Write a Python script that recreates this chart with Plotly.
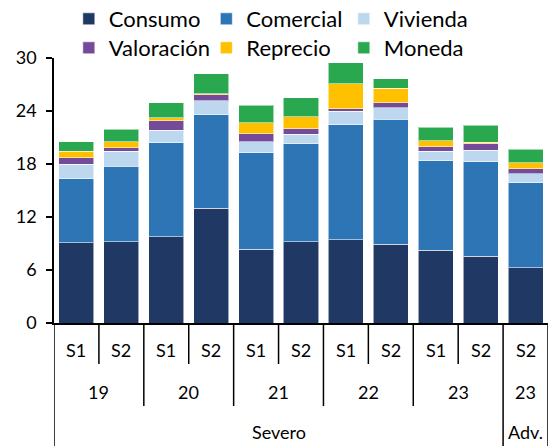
import plotly.graph_objects as go

# ---- data ----
periods = ["S1", "S2", "S1", "S2", "S1", "S2", "S1", "S2", "S1", "S2", "S2"]
years = ["19", "19", "20", "20", "21", "21", "22", "22", "23", "23", "23"]
scenarios = ["Severo"] * 10 + ["Adv."]

consumo = [9.10, 9.21, 9.78, 12.98, 8.34, 9.21, 9.44, 8.91, 8.23, 7.55, 6.23]
comercial = [7.25, 8.53, 10.64, 10.61, 10.95, 11.06, 13.02, 14.15, 10.15, 10.72, 9.66]
vivienda = [1.63, 1.70, 1.40, 1.59, 1.21, 1.10, 1.51, 1.32, 1.06, 1.29, 1.02]
valoracion = [0.72, 0.41, 1.09, 0.68, 0.94, 0.60, 0.30, 0.57, 0.53, 0.75, 0.57]
reprecio = [0.75, 0.68, 0.34, 0.08, 1.21, 1.39, 2.83, 1.62, 0.68, 0.15, 0.67]
moneda = [1.09, 1.40, 1.70, 2.30, 2.00, 2.16, 2.38, 1.06, 1.51, 1.93, 1.52]

series_names = ["Consumo", "Comercial", "Vivienda", "Valoración", "Reprecio", "Moneda"]
series_values = [consumo, comercial, vivienda, valoracion, reprecio, moneda]
series_colors = ["#203864", "#2E75B6", "#BDD7EE", "#744A9B", "#FFC000", "#2AA84F"]

y_ticks = [0, 6, 12, 18, 24, 30]

FONT = "Lato"
x = list(range(len(periods)))

fig = go.Figure()
for k, (name, vals, col) in enumerate(zip(series_names, series_values, series_colors)):
    fig.add_trace(go.Bar(
        x=x, y=vals, name=name,
        legend="legend" if k < 3 else "legend2",
        marker=dict(color=col, line=dict(color="rgba(255,255,255,0.55)", width=1)),
    ))

# ---- multi-level category labels ----
annotations = []
shapes = []
PX = 265.0  # plot height in px

def py(px_below):
    return -px_below / PX

lab_font = dict(size=18, color="black", family=FONT)
for i, p in enumerate(periods):
    annotations.append(dict(x=i, y=py(27), xref="x", yref="paper", text=p, showarrow=False,
                            xanchor="center", yanchor="middle", font=lab_font))

def groups(keys):
    out = []
    start = 0
    for i in range(1, len(keys) + 1):
        if i == len(keys) or keys[i] != keys[start]:
            out.append((start, i - 1, keys[start]))
            start = i
    return out

year_groups = groups(list(zip(scenarios, years)))
for s, e, k in year_groups:
    annotations.append(dict(x=(s + e) / 2, y=py(69), xref="x", yref="paper", text=k[1],
                            showarrow=False, xanchor="center", yanchor="middle", font=lab_font))
scen_groups = groups(scenarios)
for s, e, k in scen_groups:
    annotations.append(dict(x=(s + e) / 2, y=py(109), xref="x", yref="paper", text=k,
                            showarrow=False, xanchor="center", yanchor="middle", font=lab_font))

# separators
line = dict(color="black", width=1.5)
bounds_scen = set()
for s, e, k in scen_groups:
    bounds_scen.add(s - 0.5)
    bounds_scen.add(e + 0.5)
bounds_year = set()
for s, e, k in year_groups:
    bounds_year.add(s - 0.5)
    bounds_year.add(e + 0.5)
for i in range(len(periods) + 1):
    b = i - 0.5
    if b in bounds_scen:
        depth = 130
    elif b in bounds_year:
        depth = 83
    else:
        depth = 41
    shapes.append(dict(type="line", xref="x", yref="paper", x0=b, x1=b, y0=0, y1=py(depth),
                       line=line, layer="above"))

leg_common = dict(orientation="h", x=0.03, xanchor="left", yanchor="middle",
                  traceorder="normal", entrywidth=92.5, entrywidthmode="pixels",
                  font=dict(size=22, family=FONT, color="black"),
                  bgcolor="rgba(0,0,0,0)", itemclick=False)

fig.update_layout(
    width=553, height=446,
    margin=dict(l=54, r=5, t=58, b=123, autoexpand=False),
    barmode="stack", bargap=0.22,
    plot_bgcolor="white", paper_bgcolor="white",
    font=dict(family=FONT, size=18, color="black"),
    showlegend=True,
    legend=dict(y=1 + 39 / PX, **leg_common),
    legend2=dict(y=1 + 10 / PX, **leg_common),
    annotations=annotations,
    shapes=shapes,
    xaxis=dict(range=[-0.5, len(periods) - 0.5], showticklabels=False, ticks="",
               showgrid=False, zeroline=False, showline=True, linecolor="black", linewidth=1.5,
               automargin=False),
    yaxis=dict(range=[0, 30], tickvals=y_ticks, ticks="outside", ticklen=6, tickwidth=1.5,
               tickcolor="black", showgrid=False, zeroline=False, showline=True,
               linecolor="black", linewidth=1.5, ticklabelstandoff=6, automargin=False,
               tickfont=dict(size=18, family=FONT, color="black")),
)

fig.write_html("out.html", config={"displayModeBar": False},
               post_script="document.body.style.margin='0';")
